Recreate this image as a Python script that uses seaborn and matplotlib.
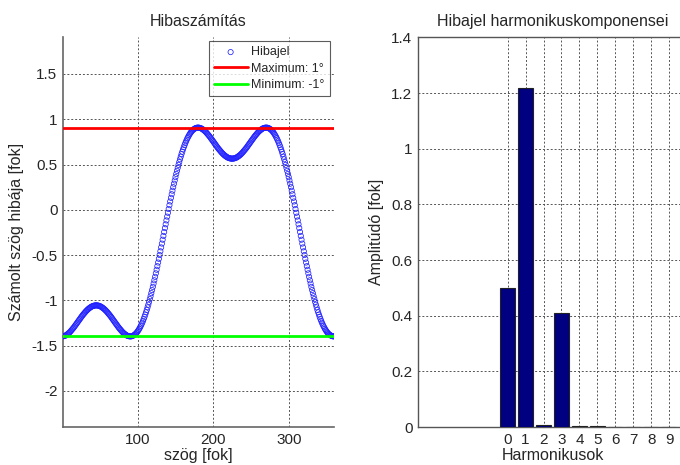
import matplotlib
matplotlib.use("Agg")
import matplotlib.pyplot as plt
import seaborn as sns
import numpy as np
import pandas as pd

sns.set_style("white")
plt.rcParams['font.family'] = ['Liberation Sans', 'DejaVu Sans']

angle_deg = list(range(1, 361))
error_deg = [
    -1.397, -1.395, -1.393, -1.389, -1.385, -1.379, -1.373, -1.366, -1.359, -1.351,
    -1.342, -1.332, -1.322, -1.312, -1.302, -1.291, -1.279, -1.268, -1.256, -1.245,
    -1.233, -1.221, -1.210, -1.198, -1.186, -1.175, -1.164, -1.154, -1.144, -1.134,
    -1.124, -1.115, -1.107, -1.099, -1.091, -1.085, -1.079, -1.073, -1.068, -1.064,
    -1.061, -1.058, -1.057, -1.055,
    -1.055, -1.055, -1.057, -1.058, -1.061, -1.064, -1.068, -1.073, -1.079, -1.085,
    -1.091, -1.099, -1.107, -1.115, -1.124, -1.134, -1.144, -1.154, -1.164, -1.175,
    -1.186, -1.198, -1.210, -1.221, -1.233, -1.245, -1.256, -1.268, -1.279, -1.291,
    -1.302, -1.312, -1.322, -1.332, -1.342, -1.351, -1.359, -1.366, -1.373, -1.379,
    -1.385, -1.389, -1.393, -1.395, -1.397, -1.398, -1.397, -1.396, -1.393, -1.389,
    -1.384, -1.378, -1.371, -1.362, -1.352, -1.341, -1.328, -1.314, -1.299, -1.283,
    -1.265, -1.246, -1.226, -1.204, -1.181, -1.157, -1.131, -1.105, -1.077, -1.048,
    -1.017, -0.986, -0.954, -0.920, -0.886, -0.851, -0.814, -0.778, -0.740, -0.701,
    -0.662, -0.622, -0.582, -0.541, -0.499, -0.458, -0.415, -0.373, -0.330, -0.288,
    -0.245, -0.202, -0.160, -0.117, -0.075, -0.033, 0.009, 0.051, 0.092, 0.132,
    0.172, 0.211, 0.250, 0.288, 0.324, 0.361, 0.396, 0.430, 0.464, 0.496,
    0.527, 0.558, 0.587, 0.615, 0.641, 0.667, 0.691, 0.714, 0.736, 0.756,
    0.775, 0.793, 0.809, 0.824, 0.838, 0.851, 0.862, 0.872, 0.881, 0.888,
    0.894, 0.899, 0.903, 0.906, 0.907, 0.908, 0.907, 0.905, 0.903, 0.899,
    0.895, 0.889, 0.883, 0.876, 0.869, 0.861, 0.852, 0.842, 0.832, 0.822,
    0.812, 0.801, 0.789, 0.778, 0.766, 0.755, 0.743, 0.731, 0.720, 0.708,
    0.696, 0.685, 0.674, 0.664, 0.654, 0.644, 0.634, 0.625, 0.617, 0.609,
    0.601, 0.595, 0.589, 0.583, 0.578, 0.574, 0.571, 0.568, 0.567, 0.565,
    0.565,
    0.565, 0.567, 0.568, 0.571, 0.574, 0.578, 0.583, 0.589, 0.595, 0.601,
    0.609, 0.617, 0.625, 0.634, 0.644, 0.654, 0.664, 0.674, 0.685, 0.696,
    0.708, 0.720, 0.731, 0.743, 0.755, 0.766, 0.778, 0.789, 0.801, 0.812,
    0.822, 0.832, 0.842, 0.852, 0.861, 0.869, 0.876, 0.883, 0.889, 0.895,
    0.899, 0.903, 0.905, 0.907, 0.908, 0.907, 0.906, 0.903, 0.899, 0.894,
    0.888, 0.881, 0.872, 0.862, 0.851, 0.838, 0.824, 0.809, 0.793, 0.775,
    0.756, 0.736, 0.714, 0.691, 0.667, 0.641, 0.615, 0.587, 0.558, 0.527,
    0.496, 0.464, 0.430, 0.396, 0.361, 0.324, 0.288, 0.250, 0.211, 0.172,
    0.132, 0.092, 0.051, 0.009, -0.033, -0.075, -0.117, -0.160, -0.202, -0.245,
    -0.288, -0.330, -0.373, -0.415, -0.458, -0.499, -0.541, -0.582, -0.622, -0.662,
    -0.701, -0.740, -0.778, -0.814, -0.851, -0.886, -0.920, -0.954, -0.986, -1.017,
    -1.048, -1.077, -1.105, -1.131, -1.157, -1.181, -1.204, -1.226, -1.246, -1.265,
    -1.283, -1.299, -1.314, -1.328, -1.341, -1.352, -1.362, -1.371, -1.378, -1.384,
    -1.389, -1.393, -1.396, -1.397, -1.398,
]
max_level = 0.908
min_level = -1.398
legend_labels = ["Hibajel", "Maximum: 1°", "Minimum: -1°"]

# ---- data: harmonic components ----
harmonics = [0, 1, 2, 3, 4, 5, 6, 7, 8, 9]
amplitudes = [0.50, 1.218, 0.008, 0.41, 0.004, 0.004, 0.001, 0.001, 0.001, 0.001]

sig_df = pd.DataFrame({"angle": angle_deg, "err": error_deg})
harm_df = pd.DataFrame({"h": harmonics, "amp": amplitudes})

fig = plt.figure(figsize=(6.8, 4.65), dpi=100)
W, H = 680.0, 465.0
ax1 = fig.add_axes([63 / W, 1 - 427 / H, 271 / W, 390 / H])
ax2 = fig.add_axes([418 / W, 1 - 427 / H, 269 / W, 389.5 / H])

grid_kw = dict(color="#555555", linestyle=(0, (2, 2)), linewidth=0.7)
tick_fs = 11

# ---- left: error signal ----
sns.scatterplot(data=sig_df, x="angle", y="err", ax=ax1, marker="o",
                facecolors="none", edgecolor="#2222ff", s=14, linewidth=0.55,
                label=legend_labels[0], zorder=3)
ax1.axhline(max_level, color="#ff0000", linewidth=2, label=legend_labels[1], zorder=4)
ax1.axhline(min_level, color="#00ff00", linewidth=2, label=legend_labels[2], zorder=4)
ax1.set_xlim(1, 360)
ax1.set_ylim(min_level - 1, max_level + 1)
ax1.set_xticks([100, 200, 300])
ax1.set_yticks([-2, -1.5, -1, -0.5, 0, 0.5, 1, 1.5])
ax1.set_yticklabels(["-2", "-1.5", "-1", "-0.5", "0", "0.5", "1", "1.5"])
ax1.grid(True, **grid_kw)
ax1.set_axisbelow(True)
for s in ["top", "right"]:
    ax1.spines[s].set_visible(False)
for s in ["left", "bottom"]:
    ax1.spines[s].set_color("#666666")
    ax1.spines[s].set_linewidth(1.2)
ax1.tick_params(labelsize=tick_fs, length=0, pad=4)
ax1.set_title("Hibaszámítás", fontsize=11.5, pad=8)
ax1.set_xlabel("szög [fok]", fontsize=11.5, labelpad=1)
ax1.set_ylabel("Számolt szög hibája [fok]", fontsize=11.5, labelpad=5)
leg = ax1.legend(loc="upper right", fontsize=9, frameon=True, fancybox=False,
                 edgecolor="#333333", borderpad=0.4, labelspacing=0.36,
                 handlelength=2.7, handletextpad=0.3, borderaxespad=0.35)
leg.get_frame().set_linewidth(0.8)

# ---- right: harmonics ----
sns.barplot(data=harm_df, x="h", y="amp", ax=ax2, native_scale=True,
            color="#000080", saturation=1, width=0.8, edgecolor="#222222",
            linewidth=0.8, zorder=3)
ax2.set_xlim(-5, 10)
ax2.set_ylim(0, 1.4)
ax2.set_xticks(harmonics)
ax2.set_xticklabels([str(h) for h in harmonics])
ax2.set_yticks([0, 0.2, 0.4, 0.6, 0.8, 1.0, 1.2, 1.4])
ax2.set_yticklabels(["0", "0.2", "0.4", "0.6", "0.8", "1", "1.2", "1.4"])
ax2.grid(True, **grid_kw)
ax2.set_axisbelow(True)
for s in ["left", "bottom", "top", "right"]:
    ax2.spines[s].set_color("#555555")
    ax2.spines[s].set_linewidth(1.0)
ax2.tick_params(labelsize=tick_fs, length=0, pad=4)
ax2.set_title("Hibajel harmonikuskomponensei", fontsize=11.5, pad=8)
ax2.set_xlabel("Harmonikusok", fontsize=11.5, labelpad=1)
ax2.set_ylabel("Amplitúdó [fok]", fontsize=11.5, labelpad=5)

fig.savefig("out.png", dpi=100)
